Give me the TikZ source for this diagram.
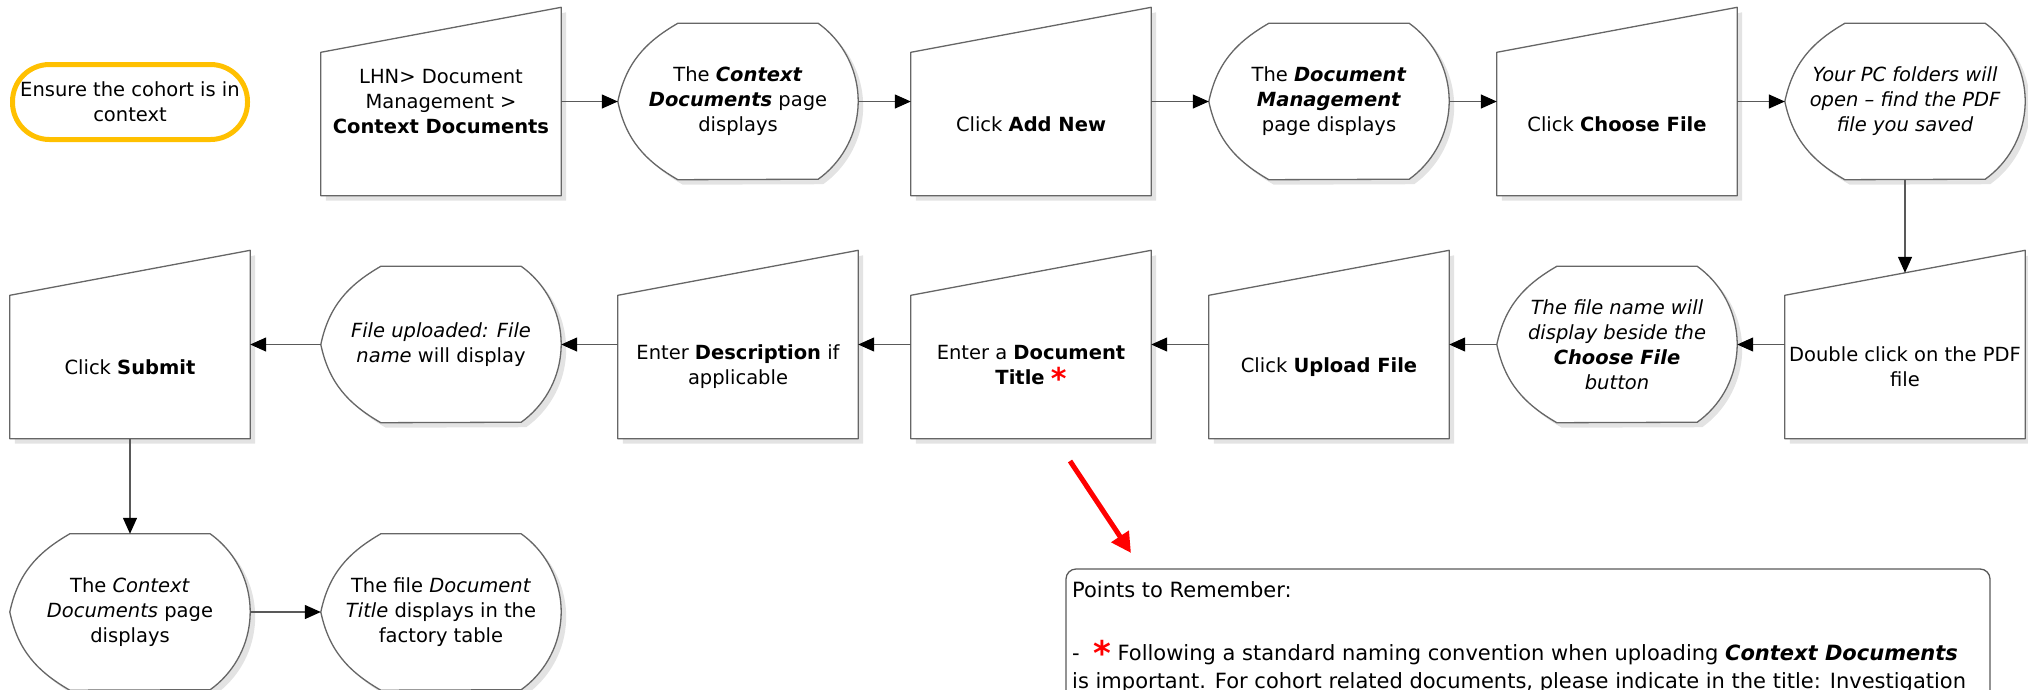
\documentclass[tikz,border=0pt]{standalone}
\usepackage{fontspec}
\setmainfont{DejaVu Sans}
\usetikzlibrary{arrows.meta,calc,backgrounds}

\definecolor{cohortyellow}{HTML}{FFC000}
\definecolor{hintred}{HTML}{FF0000}

\newcommand{\stepfont}{\fontsize{19.5}{25}\selectfont}
\newcommand{\notefont}{\fontsize{21}{28}\selectfont}
\newcommand{\bi}[1]{\textbf{\textit{#1}}}
\newcommand{\redstar}[1]{\textcolor{hintred}{\raisebox{-5pt}{\fontsize{#1}{#1}\selectfont\bfseries *}}}

\begin{document}
\begin{tikzpicture}[x=1pt, y=1pt,
	terminal/.style={draw=cohortyellow, line width=5pt, rounded corners=37pt, minimum width=235pt, minimum height=75pt, font=\stepfont, align=center},
	manual/.style={minimum width=240pt, minimum height=143pt, inner sep=0pt, font=\stepfont, align=center},
	display/.style={minimum width=240pt, minimum height=156pt, inner sep=0pt, font=\stepfont, align=center},
	shapeline/.style={draw=black!60, line width=1.3pt, fill=white, line join=round},
	dropshadow/.style={fill=black!11},
	flow/.style={draw=black!65, line width=1.3pt, -{Triangle[length=16pt, width=14pt, color=black]}},
	hint/.style={draw=hintred, line width=5pt, -{Triangle[length=20pt, width=20pt]}},
	noteframe/.style={draw=black!65, line width=1.3pt, rounded corners=10pt}]

	\useasboundingbox (0,0) rectangle (2028,-689);

	\node[terminal] (cohort) at (130,-102) {Ensure the cohort is in\\context};

	\node[manual] (lhn) at (441,-124) {\raisebox{15pt}[0pt][0pt]{\begin{tabular}{@{}c@{}}LHN> Document\\Management >\\\textbf{Context Documents}\end{tabular}}};

	\node[display] (ctxpage) at (738,-101.5) {The \bi{Context}\\\bi{Documents} page\\displays};

	\node[manual] (addnew) at (1031,-124) {Click \textbf{Add New}};

	\node[display] (dmpage) at (1329,-101.5) {The \bi{Document}\\\bi{Management}\\page displays};

	\node[manual] (choosefile) at (1617,-124) {Click \textbf{Choose File}};

	\node[display, font=\stepfont\itshape] (pcfolders) at (1905,-101.5) {Your PC folders will\\open – find the PDF\\file you saved};

	\node[manual] (dblclick) at (1905,-367) {Double click on the PDF\\file};

	\node[display, font=\stepfont\itshape] (filename) at (1617,-344.5) {The file name will\\display beside the\\\textbf{Choose File}\\button};

	\node[manual] (uploadfile) at (1329,-367) {Click \textbf{Upload File}};

	\node[manual] (doctitle) at (1031,-367) {Enter a \textbf{Document}\\\textbf{Title} \redstar{30}};

	\node[manual] (description) at (738,-367) {Enter \textbf{Description} if\\applicable};

	\node[display] (uploaded) at (441,-344.5) {\textit{File uploaded: File}\\\textit{name} will display};

	\node[manual] (submit) at (130,-367) {Click \textbf{Submit}};

	\node[display] (ctxshown) at (130,-612) {The \textit{Context}\\\textit{Documents} page\\displays};

	\node[display] (factory) at (441,-612) {The file \textit{Document}\\\textit{Title} displays in the\\factory table};

	\node
		[font=\notefont, align=left, anchor=north west, inner xsep=6pt, inner ysep=12pt] (points) at (1066,-569)
		{Points to Remember:\\[35pt]- \ \redstar{34} Following a standard naming convention when uploading \bi{Context Documents}\\is important. For cohort related documents, please indicate in the title: Investigation};

	\draw
		[noteframe] (points.north west) rectangle ++(924,-200);

	\begin{pgfonlayer}{background}
	\foreach \n in {lhn,addnew,choosefile,dblclick,uploadfile,doctitle,description,submit}
	{
		\fill
			[dropshadow, transform canvas={shift={(5pt,-5pt)}}]
			(\n.south west) -- (\n.north west) -- ($(\n.north east)+(0,45)$) -- (\n.south east) -- cycle;
		\draw
			[shapeline]
			(\n.south west) -- (\n.north west) -- ($(\n.north east)+(0,45)$) -- (\n.south east) -- cycle;
	}

	\foreach \n in {ctxpage,dmpage,pcfolders,filename,uploaded,ctxshown,factory}
	{
		\fill
			[dropshadow, transform canvas={shift={(5pt,-5pt)}}]
			($(\n.north west)+(60,0)$) -- ($(\n.north east)+(-40,0)$)
			arc[start angle=54.3, end angle=-54.3, radius=96pt]
			-- ($(\n.south west)+(60,0)$) to[out=150, in=-78] (\n.west)
			to[out=78, in=210] ($(\n.north west)+(60,0)$) -- cycle;
		\draw
			[shapeline]
			($(\n.north west)+(60,0)$) -- ($(\n.north east)+(-40,0)$)
			arc[start angle=54.3, end angle=-54.3, radius=96pt]
			-- ($(\n.south west)+(60,0)$) to[out=150, in=-78] (\n.west)
			to[out=78, in=210] ($(\n.north west)+(60,0)$) -- cycle;
	}
	\end{pgfonlayer}

	\draw
		[flow] (lhn.east |- ctxpage.west) -- (ctxpage.west);

	\draw
		[flow] (ctxpage.east) -- (ctxpage.east -| addnew.west);

	\draw
		[flow] (addnew.east |- dmpage.west) -- (dmpage.west);

	\draw
		[flow] (dmpage.east) -- (dmpage.east -| choosefile.west);

	\draw
		[flow] (choosefile.east |- pcfolders.west) -- (pcfolders.west);

	\draw
		[flow] (pcfolders.south) -- ($(dblclick.north)+(0,22.5)$);

	\draw
		[flow] (dblclick.west |- filename.east) -- (filename.east);

	\draw
		[flow] (filename.west) -- (filename.west -| uploadfile.east);

	\draw
		[flow] ([yshift=22.5pt]uploadfile.west) -- ([yshift=22.5pt]doctitle.east);

	\draw
		[flow] ([yshift=22.5pt]doctitle.west) -- ([yshift=22.5pt]description.east);

	\draw
		[flow] (description.west |- uploaded.east) -- (uploaded.east);

	\draw
		[flow] (uploaded.west) -- (uploaded.west -| submit.east);

	\draw
		[flow] (submit.south) -- (ctxshown.north);

	\draw
		[flow] (ctxshown.east) -- (factory.west);

	\coordinate (hinttail) at (1070,-461);
	\coordinate (hinthead) at (1131,-553);

	\draw
		[hint] (hinttail) -- (hinthead);
\end{tikzpicture}
\end{document}
